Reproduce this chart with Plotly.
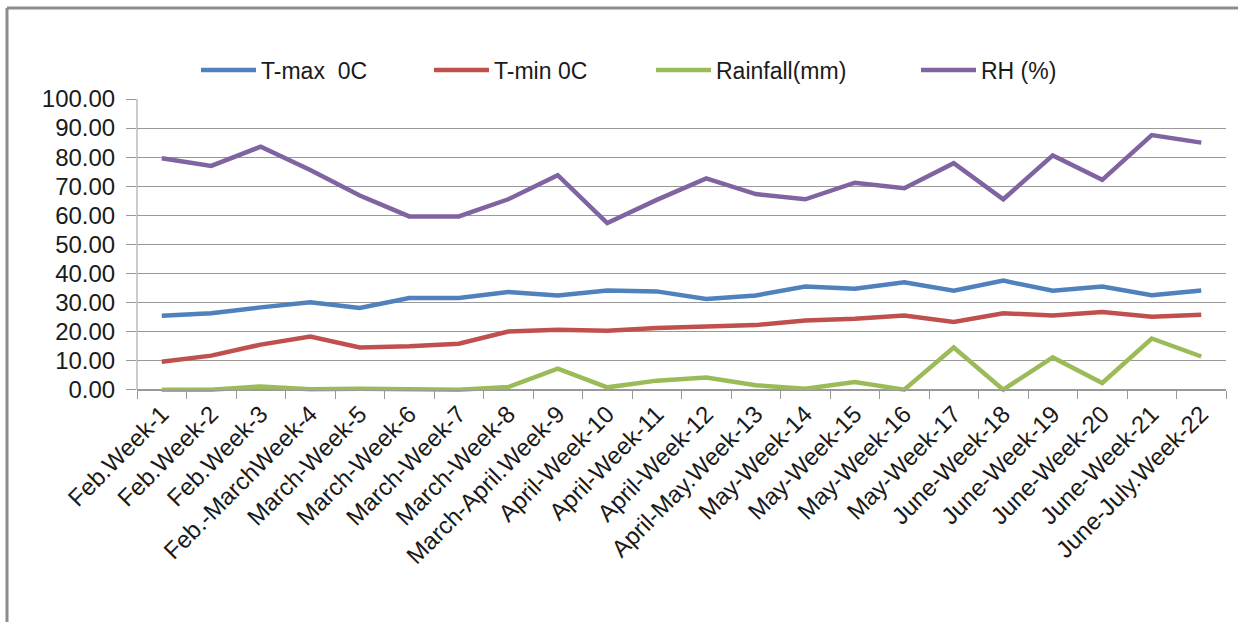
import plotly.graph_objects as go

weeks = ["Feb.Week-1", "Feb.Week-2", "Feb.Week-3", "Feb.-MarchWeek-4", "March-Week-5",
         "March-Week-6", "March-Week-7", "March-Week-8", "March-April.Week-9", "April-Week-10",
         "April-Week-11", "April-Week-12", "April-May.Week-13", "May-Week-14", "May-Week-15",
         "May-Week-16", "May-Week-17", "June-Week-18", "June-Week-19", "June-Week-20",
         "June-Week-21", "June-July.Week-22"]

t_max = [25.4, 26.3, 28.3, 30.1, 28.1, 31.5, 31.5, 33.6, 32.4, 34.1, 33.8,
         31.2, 32.4, 35.5, 34.7, 36.9, 34.0, 37.5, 34.0, 35.5, 32.5, 34.1]
t_min = [9.6, 11.7, 15.5, 18.3, 14.5, 14.9, 15.8, 20.0, 20.6, 20.3, 21.2,
         21.8, 22.2, 23.8, 24.4, 25.5, 23.3, 26.3, 25.5, 26.7, 25.1, 25.8]
rainfall = [0.0, 0.0, 1.1, 0.1, 0.3, 0.0, 0.0, 0.9, 7.2, 0.8, 3.1,
            4.2, 1.5, 0.3, 2.6, 0.0, 14.5, 0.0, 11.1, 2.3, 17.6, 11.4]
rh = [79.6, 77.0, 83.6, 75.6, 66.8, 59.6, 59.6, 65.5, 73.8, 57.3, 65.3,
      72.7, 67.3, 65.5, 71.2, 69.3, 77.9, 65.5, 80.6, 72.2, 87.6, 85.0]

series = [
    ("T-max  0C", t_max, "#4F81BD"),
    ("T-min 0C", t_min, "#C0504D"),
    ("Rainfall(mm)", rainfall, "#9BBB59"),
    ("RH (%)", rh, "#8064A2"),
]
legend_px = [200, 433, 655, 920]

FONT = "Liberation Sans, Arial, sans-serif"
W, H = 1238, 622
ml, mr, mt = 137, 12, 99
ymin, ymax = -1.5, 100
k = 2.91
plot_h = (ymax - ymin) * k
plot_w = W - ml - mr
mb = H - mt - plot_h
GRID = "#999999"

fig = go.Figure()
legends = {}
for i, (name, vals, col) in enumerate(series):
    lg = "legend" if i == 0 else f"legend{i + 1}"
    fig.add_trace(go.Scatter(x=weeks, y=vals, name=name, mode="lines",
                             line=dict(color=col, width=4.5), cliponaxis=False,
                             legend=lg))
    legends[lg] = dict(orientation="h", x=(legend_px[i] - 4 - ml) / plot_w,
                       xanchor="left", y=(mt + plot_h - 70) / plot_h, yanchor="middle",
                       font=dict(family=FONT, size=23, color="#1a1a1a"),
                       itemwidth=55, bgcolor="rgba(0,0,0,0)")

bx = (7 - ml) / plot_w
by_top = (plot_h + mt - 8) / plot_h
by_bot = -(mb + 20) / plot_h
bx_right = (W + 20 - ml) / plot_w

fig.update_layout(
    width=W, height=H,
    margin=dict(l=ml, r=mr, t=mt, b=mb, pad=0),
    paper_bgcolor="white", plot_bgcolor="white",
    font=dict(family=FONT, size=22, color="#1a1a1a"),
    showlegend=True,
    xaxis=dict(
        type="category", range=[-0.5, len(weeks) - 0.5],
        anchor="free", position=(0 - ymin) / (ymax - ymin),
        showline=True, linecolor=GRID, linewidth=1,
        ticks="outside", tickson="boundaries", ticklen=8, tickcolor=GRID,
        tickangle=-45, showgrid=False,
        tickfont=dict(family=FONT, size=24, color="#1a1a1a"),
    ),
    yaxis=dict(
        range=[ymin, ymax], tick0=0, dtick=10, tickformat=".2f",
        showline=False, showgrid=True, gridcolor=GRID, gridwidth=1,
        zeroline=True, zerolinecolor=GRID, zerolinewidth=1,
        ticks="outside", ticklen=10, tickcolor=GRID, ticklabelstandoff=6,
        tickfont=dict(family=FONT, size=24, color="#1a1a1a"),
    ),
    shapes=[
        dict(type="line", xref="paper", yref="paper",
             x0=bx, x1=bx_right, y0=by_top, y1=by_top,
             line=dict(color="#8c8c8c", width=3), layer="below"),
        dict(type="line", xref="paper", yref="paper",
             x0=bx, x1=bx, y0=by_top, y1=by_bot,
             line=dict(color="#8c8c8c", width=3), layer="below"),
        dict(type="line", xref="paper", yref="y", x0=0, x1=0, y0=0, y1=100,
             line=dict(color=GRID, width=1)),
    ],
    **legends,
)

fig.write_html("out.html")
